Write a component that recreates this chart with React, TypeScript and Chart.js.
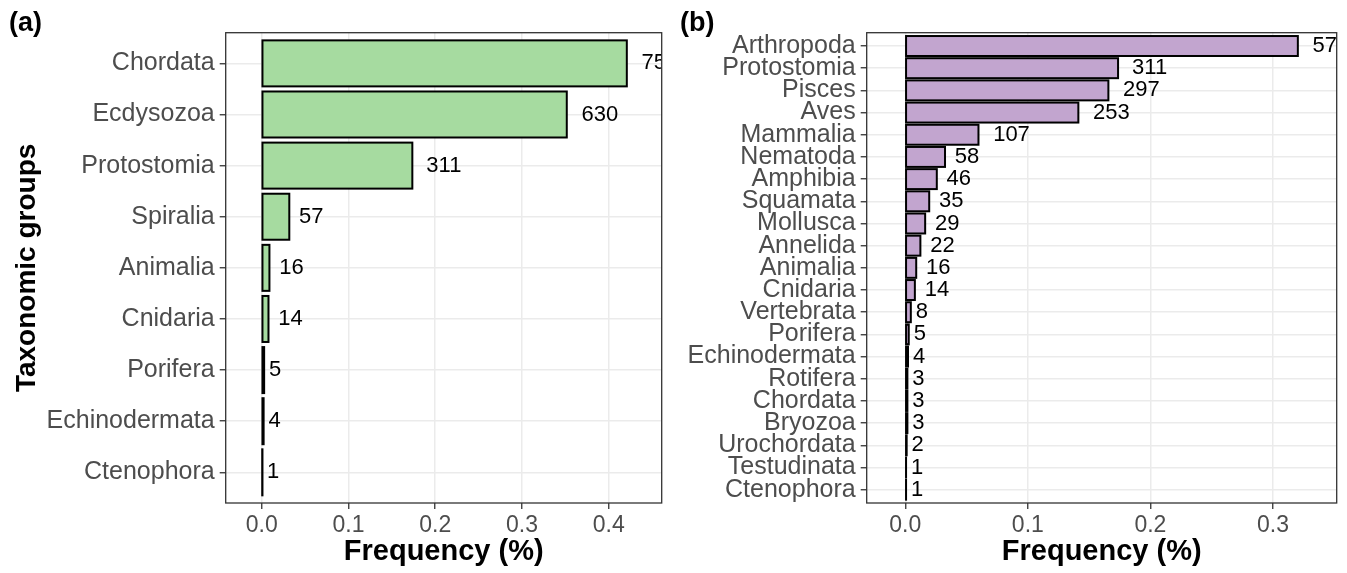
import React, { useEffect, useRef } from "react";
import { Chart, registerables } from "chart.js";

Chart.register(...registerables);

const FONT = "'Liberation Sans', Arial, Helvetica, sans-serif";

// ---------- Panel (a) ----------
const categoriesA = [
  "Chordata",
  "Ecdysozoa",
  "Protostomia",
  "Spiralia",
  "Animalia",
  "Cnidaria",
  "Porifera",
  "Echinodermata",
  "Ctenophora",
];
const countsA = [754, 630, 311, 57, 16, 14, 5, 4, 1];
const frequencyA = [0.4208, 0.3516, 0.1736, 0.0318, 0.0089, 0.0078, 0.0028, 0.0022, 0.0006];
const xTicksA = [0, 0.1, 0.2, 0.3, 0.4];
const xRangeA = [-0.0415, 0.461];

// ---------- Panel (b) ----------
const categoriesB = [
  "Arthropoda",
  "Protostomia",
  "Pisces",
  "Aves",
  "Mammalia",
  "Nematoda",
  "Amphibia",
  "Squamata",
  "Mollusca",
  "Annelida",
  "Animalia",
  "Cnidaria",
  "Vertebrata",
  "Porifera",
  "Echinodermata",
  "Rotifera",
  "Chordata",
  "Bryozoa",
  "Urochordata",
  "Testudinata",
  "Ctenophora",
];
const countsB = [574, 311, 297, 253, 107, 58, 46, 35, 29, 22, 16, 14, 8, 5, 4, 3, 3, 3, 2, 1, 1];
const frequencyB = [
  0.3203, 0.1736, 0.1657, 0.1412, 0.0597, 0.0324, 0.0257, 0.0195, 0.0162, 0.0123, 0.0089,
  0.0078, 0.0045, 0.0028, 0.0022, 0.0017, 0.0017, 0.0017, 0.0011, 0.0006, 0.0006,
];
const xTicksB = [0, 0.1, 0.2, 0.3];
const xRangeB = [-0.0315, 0.352];

const GREEN = "#A6DBA0";
const PURPLE = "#C2A5CF";

type PanelSpec = {
  categories: string[];
  counts: number[];
  frequency: number[];
  xTicks: number[];
  xRange: number[];
  color: string;
  yWidth: number;
  yTitle: string | null;
  padRight: number;
};

function makePlugin(labels: number[]) {
  return {
    id: "panelDecor",
    afterDatasetsDraw(chart: any) {
      const ctx = chart.ctx as CanvasRenderingContext2D;
      const meta = chart.getDatasetMeta(0);
      const area = chart.chartArea;
      ctx.save();
      ctx.strokeStyle = "#000000";
      ctx.lineWidth = 2;
      meta.data.forEach((el: any) => {
        const p = el.getProps(["x", "y", "base", "height"], true);
        const left = Math.min(p.x, p.base);
        const w = Math.abs(p.x - p.base);
        ctx.strokeRect(left, p.y - p.height / 2, w, p.height);
      });
      ctx.restore();

      ctx.save();
      ctx.beginPath();
      ctx.rect(area.left, area.top, area.right - area.left, area.bottom - area.top);
      ctx.clip();
      ctx.font = `22px ${FONT}`;
      ctx.fillStyle = "#000000";
      ctx.textBaseline = "middle";
      ctx.textAlign = "left";
      meta.data.forEach((el: any, i: number) => {
        const label = String(labels[i]);
        const w = ctx.measureText(label).width;
        ctx.fillText(label, el.x + 0.4 * w, el.y);
      });
      ctx.restore();

      ctx.save();
      ctx.strokeStyle = "#333333";
      ctx.lineWidth = 1.3;
      ctx.strokeRect(area.left, area.top, area.right - area.left, area.bottom - area.top);
      ctx.restore();
    },
  };
}

function makeConfig(spec: PanelSpec): any {
  const n = spec.categories.length;
  return {
    type: "bar",
    data: {
      datasets: [
        {
          data: spec.frequency.map((v, i) => ({ x: v, y: i })),
          backgroundColor: spec.color,
          borderWidth: 0,
          barPercentage: 0.9,
          categoryPercentage: 1.0,
        },
      ],
    },
    plugins: [makePlugin(spec.counts)],
    options: {
      indexAxis: "y",
      animation: false,
      responsive: false,
      maintainAspectRatio: false,
      layout: { padding: { top: 32.7, right: spec.padRight, bottom: 0, left: 0 } },
      plugins: {
        legend: { display: false },
        tooltip: { enabled: false },
        title: { display: false },
      },
      scales: {
        x: {
          type: "linear",
          position: "bottom",
          offset: false,
          min: spec.xRange[0],
          max: spec.xRange[1],
          afterBuildTicks: (s: any) => {
            s.ticks = spec.xTicks.map((v) => ({ value: v }));
          },
          afterFit: (s: any) => {
            s.height = 70;
          },
          ticks: {
            autoSkip: false,
            maxRotation: 0,
            padding: 3,
            color: "#4D4D4D",
            font: { family: FONT, size: 23 },
            callback: (v: any) => Number(v).toFixed(1),
          },
          grid: {
            offset: false,
            color: "#EBEBEB",
            lineWidth: 1.5,
            tickColor: "#333333",
            tickLength: 6,
            tickWidth: 1.3,
          },
          border: { display: false },
          title: {
            display: true,
            text: "Frequency (%)",
            color: "#000000",
            font: { family: FONT, size: 29, weight: "bold" },
            padding: { top: 0, bottom: 4 },
          },
        },
        y: {
          type: "linear",
          position: "left",
          offset: false,
          min: -0.6,
          max: n - 1 + 0.6,
          reverse: true,
          afterBuildTicks: (s: any) => {
            s.ticks = spec.categories.map((_, i) => ({ value: i }));
          },
          afterFit: (s: any) => {
            s.width = spec.yWidth;
          },
          ticks: {
            autoSkip: false,
            padding: 5,
            color: "#4D4D4D",
            font: { family: FONT, size: 25 },
            callback: (v: any) => spec.categories[Math.round(Number(v))] ?? "",
          },
          grid: {
            offset: false,
            color: "#EBEBEB",
            lineWidth: 1.5,
            tickColor: "#333333",
            tickLength: 6,
            tickWidth: 1.3,
          },
          border: { display: false },
          title: {
            display: !!spec.yTitle,
            text: spec.yTitle ?? "",
            color: "#000000",
            font: { family: FONT, size: 28, weight: "bold" },
            padding: { top: 10, bottom: 0 },
          },
        },
      },
    },
  };
}

function Panel({ spec, left, width }: { spec: PanelSpec; left: number; width: number }) {
  const ref = useRef<HTMLCanvasElement | null>(null);
  useEffect(() => {
    if (!ref.current) return;
    const chart = new Chart(ref.current, makeConfig(spec));
    return () => chart.destroy();
  }, [spec]);
  return (
    <canvas
      ref={ref}
      width={width}
      height={573}
      style={{ position: "absolute", left, top: 0, width, height: 573, display: "block" }}
    />
  );
}

const specA: PanelSpec = {
  categories: categoriesA,
  counts: countsA,
  frequency: frequencyA,
  xTicks: xTicksA,
  xRange: xRangeA,
  color: GREEN,
  yWidth: 225.7,
  yTitle: "Taxonomic groups",
  padRight: 10.3,
};

const specB: PanelSpec = {
  categories: categoriesB,
  counts: countsB,
  frequency: frequencyB,
  xTicks: xTicksB,
  xRange: xRangeB,
  color: PURPLE,
  yWidth: 194.7,
  yTitle: null,
  padRight: 10.3,
};

const tagStyle: React.CSSProperties = {
  position: "absolute",
  top: 7,
  fontFamily: FONT,
  fontWeight: "bold",
  fontSize: 27,
  lineHeight: "30px",
  color: "#000",
};

export default function App() {
  return (
    <div
      style={{
        position: "absolute",
        left: 0,
        top: 0,
        width: 1347,
        height: 573,
        background: "#ffffff",
        overflow: "hidden",
      }}
    >
      <Panel spec={specA} left={0} width={672} />
      <Panel spec={specB} left={672} width={675} />
      <div style={{ ...tagStyle, left: 9 }}>(a)</div>
      <div style={{ ...tagStyle, left: 680 }}>(b)</div>
    </div>
  );
}
